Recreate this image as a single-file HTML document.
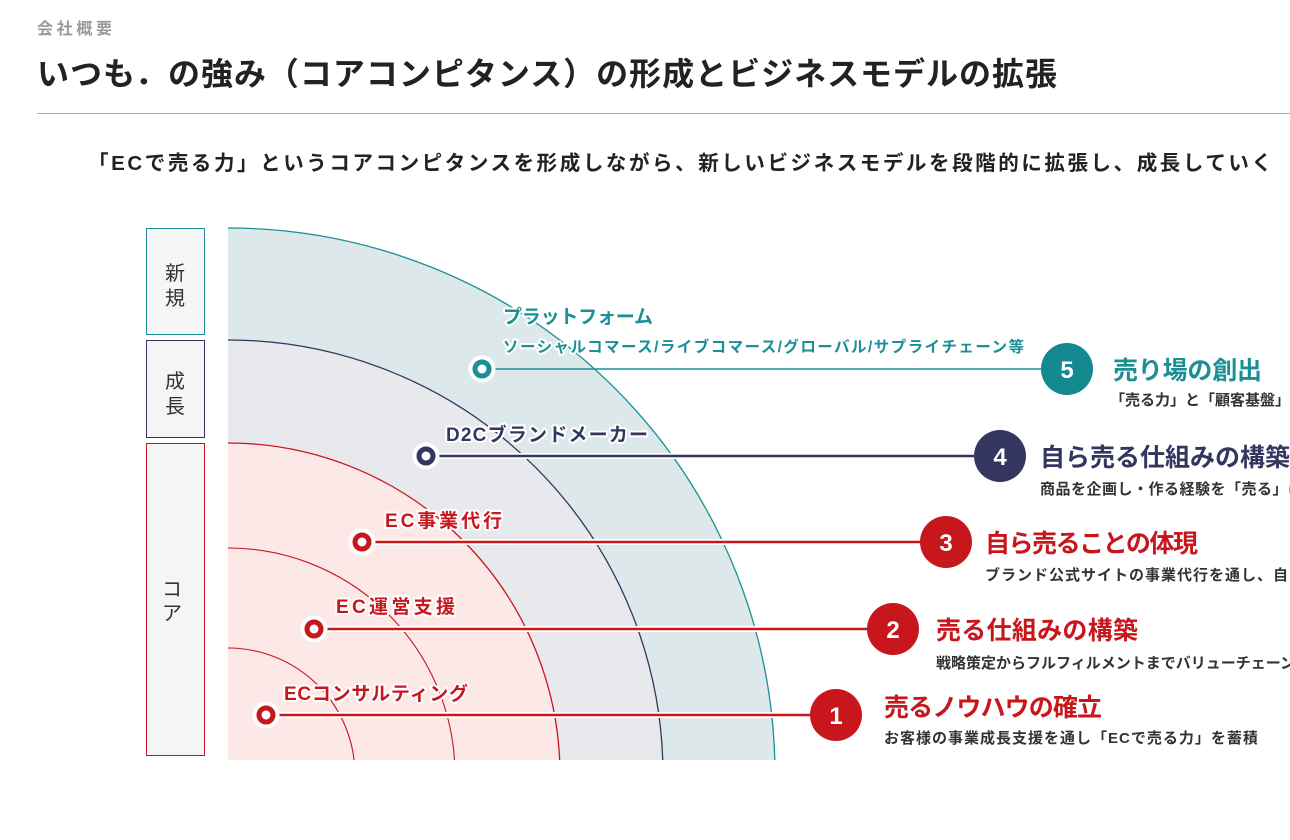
<!DOCTYPE html>
<html><head><meta charset="utf-8"><style>
html,body{margin:0;width:1290px;height:840px;overflow:hidden;background:#fff;font-family:"Liberation Sans","Noto Sans CJK JP",sans-serif;}
svg{display:block}
</style></head><body>
<svg width="1290" height="840" viewBox="0 0 1290 840" xmlns="http://www.w3.org/2000/svg" style="font-family:'Liberation Sans','Noto Sans CJK JP',sans-serif">
<defs><clipPath id="c"><rect x="228" y="200" width="700" height="560"/></clipPath></defs>
<text x="37" y="34" font-size="16" font-weight="bold" fill="#999" textLength="75">会社概要</text>
<text x="37" y="85" font-size="32" font-weight="bold" fill="#222" textLength="1020" lengthAdjust="spacing">いつも．の強み（コアコンピタンス）の形成とビジネスモデルの拡張</text>
<line x1="37" y1="113.5" x2="1290" y2="113.5" stroke="#c9a49a" stroke-width="1"/>
<text x="88" y="170" font-size="20.5" font-weight="bold" fill="#222" textLength="1184" lengthAdjust="spacing">「ECで売る力」というコアコンピタンスを形成しながら、新しいビジネスモデルを段階的に拡張し、成長していく</text>

<rect x="146.5" y="228.5" width="58" height="106" fill="#f4f6f5" stroke="#1a9096"/>
<rect x="146.5" y="340.5" width="58" height="97" fill="#f4f6f5" stroke="#353660"/>
<rect x="146.5" y="443.5" width="58" height="312" fill="#f4f6f5" stroke="#c8161d"/>
<text x="175" y="280" font-size="20" fill="#333" text-anchor="middle">新</text>
<text x="175" y="305" font-size="20" fill="#333" text-anchor="middle">規</text>
<text x="175" y="388" font-size="20" fill="#333" text-anchor="middle">成</text>
<text x="175" y="413" font-size="20" fill="#333" text-anchor="middle">長</text>
<text x="172" y="596" font-size="20" fill="#333" text-anchor="middle">コ</text>
<text x="172" y="620" font-size="20" fill="#333" text-anchor="middle">ア</text>

<g clip-path="url(#c)">
<circle cx="228" cy="775" r="547" fill="#dde8ea" stroke="#1a9096" stroke-width="1.3"/>
<circle cx="228" cy="775" r="435" fill="#e8e9ec" stroke="#353660" stroke-width="1.3"/>
<circle cx="228" cy="775" r="332" fill="#fde8e8" stroke="#c8161d" stroke-width="1.3"/>
<circle cx="228" cy="775" r="227" fill="none" stroke="#c8161d" stroke-width="1.1"/>
<circle cx="228" cy="775" r="127" fill="none" stroke="#c8161d" stroke-width="1.1"/>
</g>

<g font-weight="bold" stroke="#fff" stroke-width="4" paint-order="stroke" stroke-linejoin="round" lengthAdjust="spacing">
<text x="503" y="323" font-size="19" fill="#1a9096" textLength="150">プラットフォーム</text>
<text x="503" y="352" font-size="15.5" fill="#1a9096" textLength="521">ソーシャルコマース/ライブコマース/グローバル/サプライチェーン等</text>
<text x="446" y="441" font-size="19" fill="#353660" textLength="202">D2Cブランドメーカー</text>
<text x="385" y="527" font-size="19" fill="#c8161d" textLength="117">EC事業代行</text>
<text x="336" y="613" font-size="19" fill="#c8161d" textLength="119">EC運営支援</text>
<text x="284" y="700" font-size="19" fill="#c8161d" textLength="184">ECコンサルティング</text>
</g>

<!-- row 5 -->
<line x1="482" y1="369" x2="1045" y2="369" stroke="#1a9096" stroke-width="1.5"/>
<circle cx="482" cy="369" r="9" fill="none" stroke="#fff" stroke-width="9"/>
<circle cx="482" cy="369" r="7" fill="#fff" stroke="#1a9096" stroke-width="5"/>
<circle cx="1067" cy="369" r="26" fill="#14898f"/>
<text x="1067" y="378" font-size="24" font-weight="bold" fill="#fff" text-anchor="middle">5</text>
<text x="1113" y="379" font-size="25" font-weight="bold" fill="#1a9096" textLength="149" lengthAdjust="spacing">売り場の創出</text>
<text x="1110" y="405" font-size="15" font-weight="bold" fill="#333">「売る力」と「顧客基盤」を活かし新たな売り場を創出</text>

<!-- row 4 -->
<line x1="426" y1="456" x2="980" y2="456" stroke="#fff" stroke-width="6"/>
<line x1="426" y1="456" x2="980" y2="456" stroke="#353660" stroke-width="2.5"/>
<circle cx="426" cy="456" r="9" fill="none" stroke="#fff" stroke-width="9"/>
<circle cx="426" cy="456" r="7" fill="#fff" stroke="#353660" stroke-width="5"/>
<circle cx="1000" cy="456" r="26" fill="#353660"/>
<text x="1000" y="465" font-size="24" font-weight="bold" fill="#fff" text-anchor="middle">4</text>
<text x="1040" y="466" font-size="25" font-weight="bold" fill="#353660" textLength="250" lengthAdjust="spacing">自ら売る仕組みの構築</text>
<text x="1040" y="494" font-size="15" font-weight="bold" fill="#333" letter-spacing="0.5">商品を企画し・作る経験を「売る」に活かす</text>

<!-- row 3 -->
<line x1="362" y1="542" x2="925" y2="542" stroke="#fff" stroke-width="6"/>
<line x1="362" y1="542" x2="925" y2="542" stroke="#c8161d" stroke-width="2.5"/>
<circle cx="362" cy="542" r="9" fill="none" stroke="#fff" stroke-width="9"/>
<circle cx="362" cy="542" r="7" fill="#fff" stroke="#c8161d" stroke-width="5"/>
<circle cx="946" cy="542" r="26" fill="#c8161d"/>
<text x="946" y="551" font-size="24" font-weight="bold" fill="#fff" text-anchor="middle">3</text>
<text x="985" y="552" font-size="25" font-weight="bold" fill="#c8161d" textLength="213" lengthAdjust="spacing">自ら売ることの体現</text>
<text x="985" y="580" font-size="15" font-weight="bold" fill="#333" letter-spacing="1">ブランド公式サイトの事業代行を通し、自ら売る</text>

<!-- row 2 -->
<line x1="314" y1="629" x2="872" y2="629" stroke="#fff" stroke-width="6"/>
<line x1="314" y1="629" x2="872" y2="629" stroke="#c8161d" stroke-width="2.5"/>
<circle cx="314" cy="629" r="9" fill="none" stroke="#fff" stroke-width="9"/>
<circle cx="314" cy="629" r="7" fill="#fff" stroke="#c8161d" stroke-width="5"/>
<circle cx="893" cy="629" r="26" fill="#c8161d"/>
<text x="893" y="638" font-size="24" font-weight="bold" fill="#fff" text-anchor="middle">2</text>
<text x="936" y="639" font-size="25" font-weight="bold" fill="#c8161d" textLength="202" lengthAdjust="spacing">売る仕組みの構築</text>
<text x="936" y="668" font-size="15" font-weight="bold" fill="#333">戦略策定からフルフィルメントまでバリューチェーン全体を支援</text>

<!-- row 1 -->
<line x1="266" y1="715" x2="815" y2="715" stroke="#fff" stroke-width="6"/>
<line x1="266" y1="715" x2="815" y2="715" stroke="#c8161d" stroke-width="2.5"/>
<circle cx="266" cy="715" r="9" fill="none" stroke="#fff" stroke-width="9"/>
<circle cx="266" cy="715" r="7" fill="#fff" stroke="#c8161d" stroke-width="5"/>
<circle cx="836" cy="715" r="26" fill="#c8161d"/>
<text x="836" y="724" font-size="24" font-weight="bold" fill="#fff" text-anchor="middle">1</text>
<text x="884" y="716" font-size="25" font-weight="bold" fill="#c8161d" textLength="218" lengthAdjust="spacing">売るノウハウの確立</text>
<text x="884" y="743" font-size="15" font-weight="bold" fill="#333" letter-spacing="1">お客様の事業成長支援を通し「ECで売る力」を蓄積</text>
</svg>
</body></html>
